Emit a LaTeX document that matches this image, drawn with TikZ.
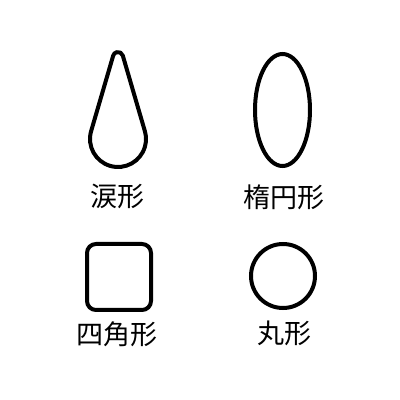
\documentclass[tikz,border=0pt]{standalone}
\usepackage{fontspec}
\newfontfamily\jpfont{Noto Sans CJK JP}
\usepackage{tikz}
\usetikzlibrary{shapes.geometric, positioning, calc}

\begin{document}
\begin{tikzpicture}[x=1pt, y=1pt,
    outline/.style={draw=black, line width=4pt, inner sep=0pt},
    shapename/.style={font=\jpfont\fontsize{27}{30}\selectfont, inner sep=0pt}]
  \useasboundingbox (0,0) rectangle (400,400);

  % Teardrop
  \coordinate (dropbottom) at (118, 261);
  \coordinate (droptop) at (118, 343);
  \draw[line width=4pt, line join=round]
    ($(dropbottom)+(16.3:28)$) -- ($(droptop)+(16.3:5)$)
    arc[start angle=16.3, end angle=163.7, radius=5]
    -- ($(dropbottom)+(163.7:28)$)
    arc[start angle=163.7, end angle=376.3, radius=28] -- cycle;
  \node[shapename] (droplabel) at (118, 204) {涙形};

  % Ellipse
  \node[outline, ellipse, minimum width=55pt, minimum height=112pt] (oval) at (282.5, 290) {};
  \node[shapename] (ovallabel) at (284, 203) {楕円形};

  % Rounded square
  \node[outline, rectangle, rounded corners=9pt, minimum width=64pt, minimum height=66pt] (square) at (119, 123) {};
  \node[shapename] (squarelabel) at (117, 66) {四角形};

  % Circle
  \node[outline, circle, minimum size=64pt] (round) at (283, 124) {};
  \node[shapename] (roundlabel) at (284, 67) {丸形};
\end{tikzpicture}
\end{document}
